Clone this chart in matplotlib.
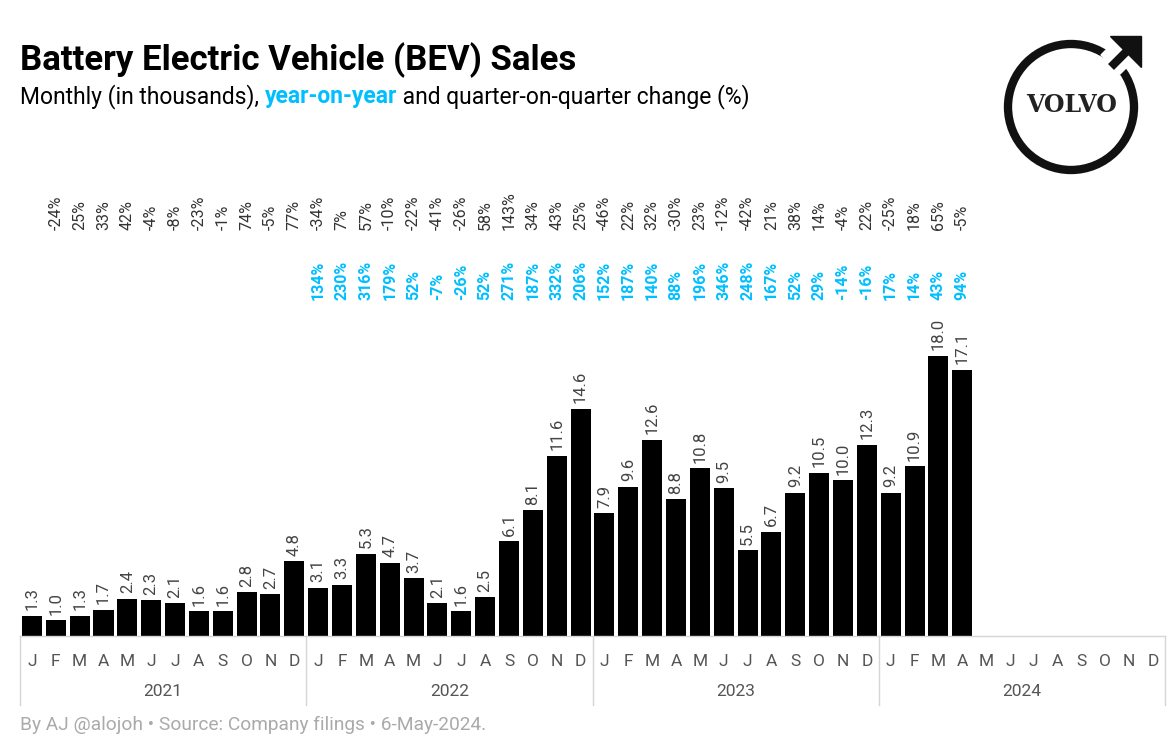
import matplotlib
matplotlib.use("Agg")
import matplotlib.pyplot as plt
from matplotlib.patches import Circle, Polygon

plt.rcParams['font.family'] = ['Roboto', 'DejaVu Sans']

months = ["J", "F", "M", "A", "M", "J", "J", "A", "S", "O", "N", "D"]
years = ["2021", "2022", "2023", "2024"]

sales = [1.3, 1.0, 1.3, 1.7, 2.4, 2.3, 2.1, 1.6, 1.6, 2.8, 2.7, 4.8,
         3.1, 3.3, 5.3, 4.7, 3.7, 2.1, 1.6, 2.5, 6.1, 8.1, 11.6, 14.6,
         7.9, 9.6, 12.6, 8.8, 10.8, 9.5, 5.5, 6.7, 9.2, 10.5, 10.0, 12.3,
         9.2, 10.9, 18.0, 17.1]

# change vs previous period, first month has none
qoq = [None, -24, 25, 33, 42, -4, -8, -23, -1, 74, -5, 77,
       -34, 7, 57, -10, -22, -41, -26, 58, 143, 34, 43, 25,
       -46, 22, 32, -30, 23, -12, -42, 21, 38, 14, -4, 22,
       -25, 18, 65, -5]

yoy = [None] * 12 + [134, 230, 316, 179, 52, -7, -26, 52, 271, 187, 332, 206,
                     152, 187, 140, 88, 196, 346, 248, 167, 52, 29, -14, -16,
                     17, 14, 43, 94]

W, H = 1175, 745
fig = plt.figure(figsize=(W / 100, H / 100), dpi=100)

# main axes: x 20..1165 px, baseline at y=636 px, top at y=130
top_px, base_px = 130, 636
ax = fig.add_axes([20 / W, (H - base_px) / H, 1145 / W, (base_px - top_px) / H])
ymax = (base_px - top_px) / 15.56
ax.set_xlim(-0.5, 47.5)
ax.set_ylim(0, ymax)
ax.axis("off")

x = list(range(len(sales)))
ax.bar(x, sales, width=0.84, color="black")

gray = "#444444"
blue = "#00bfff"
for i, v in enumerate(sales):
    ax.text(i, v + 0.35, f"{v:.1f}", rotation=90, ha="center", va="bottom",
            fontsize=12, color=gray)
qoq_y = (base_px - 230) / 15.56
yoy_y = (base_px - 300) / 15.56
for i, v in enumerate(qoq):
    if v is not None:
        ax.text(i, qoq_y, f"{v}%", rotation=90, ha="center", va="bottom",
                fontsize=11.5, color="#333333")
for i, v in enumerate(yoy):
    if v is not None:
        ax.text(i, yoy_y, f"{v}%", rotation=90, ha="center", va="bottom",
                fontsize=11.5, color=blue, fontweight="bold")

# category axis below the bars
line_c = "#d6d6d6"
ax.plot([-0.5, 47.5], [0, 0], color=line_c, lw=1, clip_on=False)
month_y = -(661 - base_px) / 15.56
year_y = -(692 - base_px) / 15.56
low_y = -(705 - base_px) / 15.56
for k in range(48):
    ax.text(k, month_y, months[k % 12], ha="center", va="center",
            fontsize=12.5, color="#555555")
for j, yr in enumerate(years):
    ax.text(j * 12 + 5.5, year_y, yr, ha="center", va="center",
            fontsize=12.5, color="#555555")
for j in range(5):
    ax.plot([j * 12 - 0.5] * 2, [0, low_y], color=line_c, lw=1, clip_on=False)

# titles
fig.text(20 / W, 1 - 70 / H, "Battery Electric Vehicle (BEV) Sales",
         fontsize=25, fontweight="bold", va="baseline")
t1 = fig.text(20 / W, 1 - 103 / H, "Monthly (in thousands), ", fontsize=16.5, va="baseline")
fig.canvas.draw()
r = fig.canvas.get_renderer()
bb = t1.get_window_extent(r)
t2 = fig.text(bb.x1 / W, 1 - 103 / H, "year-on-year", fontsize=16.5, va="baseline",
              color=blue, fontweight="bold")
bb2 = t2.get_window_extent(r)
fig.text(bb2.x1 / W, 1 - 103 / H, " and quarter-on-quarter change (%)",
         fontsize=16.5, va="baseline")

fig.text(20 / W, 1 - 730 / H, "By AJ @alojoh \u2022 Source: Company filings \u2022 6-May-2024.",
         fontsize=13.8, color="#aaaaaa", va="baseline")

# logo
lx = fig.add_axes([990 / W, 1 - 190 / H, 180 / W, 170 / H])
lx.set_xlim(990, 1170)
lx.set_ylim(190, 20)
lx.set_aspect("equal")
lx.axis("off")
lx.add_patch(Circle((1071, 107), 63, fill=False, lw=6, color="#111111"))
# white gap where arrow leaves the circle
lx.add_patch(Polygon([(1101, 55), (1111, 45), (1130, 64), (1120, 74)],
                     color="white"))
lx.plot([1111, 1128], [67, 50], color="#111111", lw=6, solid_capstyle="butt")
lx.add_patch(Polygon([(1110, 36), (1141, 36), (1141, 67)], color="#111111"))
lx.text(1072, 105, "VOLVO", ha="center", va="center", fontsize=17,
        fontweight="bold", family=["DejaVu Serif"], color="#222222")

fig.savefig("out.png", dpi=100)
